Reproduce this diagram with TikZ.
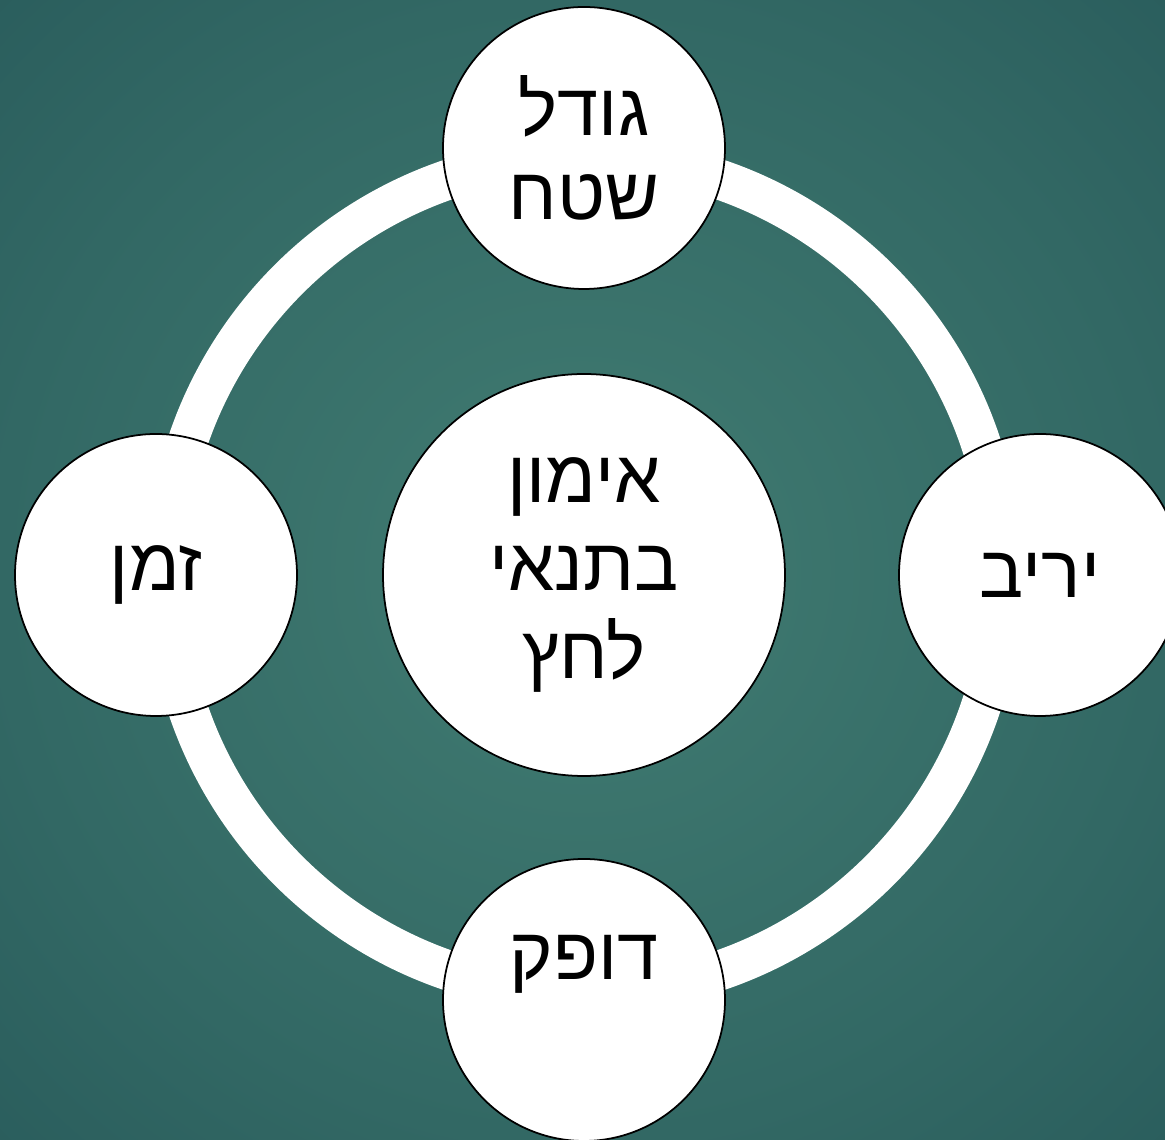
\documentclass[tikz,border=0pt]{standalone}
\usepackage{fontspec}
\usepackage{tikz}
\usetikzlibrary{positioning}
\TeXXeTstate=1
\newfontfamily\hebfont[Script=Hebrew]{Liberation Sans}
\newcommand{\heb}[1]{\beginR #1\endR}
\definecolor{tealmid}{RGB}{65,124,114}
\definecolor{tealring}{RGB}{50,104,100}
\definecolor{tealedge}{RGB}{36,85,87}
\definecolor{tealcorner}{RGB}{31,76,80}
\pgfdeclareradialshading{backglow}{\pgfpoint{0bp}{0bp}}{color(0bp)=(tealmid); color(25bp)=(tealring); color(45bp)=(tealedge); color(71bp)=(tealcorner)}

\begin{document}
\begin{tikzpicture}[ring/.style={draw=white, line width=4mm}, bubble/.style={circle, draw=black, line width=0.5pt, fill=white, minimum size=2.82cm, inner sep=0pt, outer sep=0pt, align=center, font=\hebfont\fontsize{21}{24}\selectfont}, hub/.style={bubble, minimum size=4.02cm, font=\hebfont\fontsize{21}{25}\selectfont}]
        \useasboundingbox (0,0) rectangle (11.65,11.40);
        \clip (0,0) rectangle (11.65,11.40);
        \shade[shading=backglow] (0,0) rectangle (11.65,11.40);
        \coordinate (mid) at (5.84,5.65);
        \draw[ring] (mid) circle (4.18);
        \node[hub] (hub) at (mid) {\heb{אימון}\\\heb{בתנאי}\\\heb{לחץ}};
        \node[bubble, above=0.85cm of hub] (area) {\heb{גודל}\\\heb{שטח}};
        \node[bubble, left=0.86cm of hub] (time) {\heb{זמן}};
        \node[bubble, right=1.14cm of hub] (rival) {\heb{יריב}};
        \node[bubble, below=0.83cm of hub] (pulse) {\heb{דופק}\\\mbox{}};
    \end{tikzpicture}
\end{document}
